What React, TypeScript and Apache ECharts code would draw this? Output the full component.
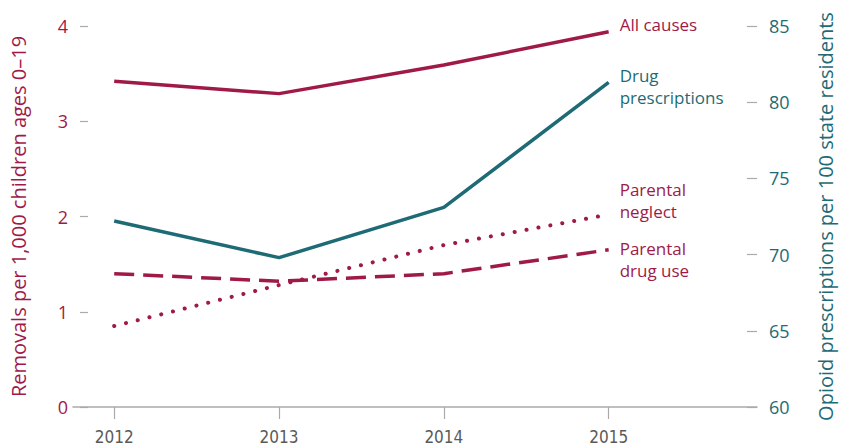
import React, { useEffect, useRef } from "react";
import * as echarts from "echarts";

const years = [2012, 2013, 2014, 2015];
const allCauses = [3.42, 3.29, 3.59, 3.94];
const parentalNeglect = [0.85, 1.28, 1.7, 2.02];
const parentalDrugUse = [1.4, 1.32, 1.4, 1.65];
const drugPrescriptions = [72.2, 69.8, 73.1, 81.3];
const leftTicks = [0, 1, 2, 3, 4];
const rightTicks = [60, 65, 70, 75, 80, 85];

const CRIMSON = "#a01a48";
const TEAL = "#1e6b75";
const FONT = "'Open Sans', 'Noto Sans', sans-serif";

const pairs = (vals: number[]) => years.map((y, i) => [y, vals[i]]);

export default function App() {
  const ref = useRef<HTMLDivElement>(null);
  useEffect(() => {
    document.body.style.margin = "0";
    const chart = echarts.init(ref.current!, null, { renderer: "svg" });
    const endLabel = (text: string, color: string, dy: number) => ({
      show: true,
      formatter: text,
      color,
      fontFamily: FONT,
      fontSize: 17,
      lineHeight: 22,
      distance: 11,
      offset: [0, dy],
    });
    chart.setOption({
      animation: false,
      grid: { left: 73, right: 80, top: 26, bottom: 41 },
      xAxis: {
        type: "value",
        min: 2011.75,
        max: 2015.9,
        splitLine: { show: false },
        axisLine: { show: true, lineStyle: { color: "#aaaaaa", width: 1.5 } },
        axisTick: {
          show: true,
          customValues: years,
          length: 12,
          lineStyle: { color: "#aaaaaa", width: 1.2 },
        },
        axisLabel: {
          customValues: years,
          formatter: (v: number) => String(v),
          color: "#5a5a5a",
          fontFamily: "'Liberation Sans Narrow', 'DejaVu Sans Condensed', sans-serif",
          fontWeight: "normal",
          fontSize: 17,
          margin: 21,
        },
      },
      yAxis: [
        {
          type: "value",
          min: 0,
          max: 4,
          interval: 1,
          offset: -15,
          splitLine: { show: false },
          axisLine: { show: false },
          axisTick: { show: true, length: 8, lineStyle: { color: "#aaaaaa", width: 1.2 } },
          axisLabel: {
            customValues: leftTicks,
            color: CRIMSON,
            fontFamily: FONT,
            fontSize: 18,
            margin: 20,
          },
          name: "Removals per 1,000 children ages 0–19",
          nameLocation: "middle",
          nameGap: 60,
          nameTextStyle: { color: CRIMSON, fontFamily: FONT, fontSize: 20 },
        },
        {
          type: "value",
          min: 60,
          max: 85,
          interval: 5,
          position: "right",
          splitLine: { show: false },
          axisLine: { show: false },
          axisTick: {
            show: true,
            inside: true,
            length: 10,
            lineStyle: { color: "#aaaaaa", width: 1.2 },
          },
          axisLabel: {
            customValues: rightTicks,
            color: TEAL,
            fontFamily: FONT,
            fontSize: 18,
            margin: 12,
          },
          name: "Opioid prescriptions per 100 state residents",
          nameLocation: "middle",
          nameGap: 58,
          nameRotate: 90,
          nameTextStyle: { color: TEAL, fontFamily: FONT, fontSize: 20 },
        },
      ],
      series: [
        {
          name: "All causes",
          type: "line",
          yAxisIndex: 0,
          data: pairs(allCauses),
          symbol: "none",
          lineStyle: { color: CRIMSON, width: 3.5 },
          endLabel: endLabel("All causes", CRIMSON, -7),
        },
        {
          name: "Drug prescriptions",
          type: "line",
          yAxisIndex: 1,
          data: pairs(drugPrescriptions),
          symbol: "none",
          lineStyle: { color: TEAL, width: 3.5 },
          endLabel: endLabel("Drug\nprescriptions", TEAL, 4),
        },
        {
          name: "Parental neglect",
          type: "line",
          yAxisIndex: 0,
          data: pairs(parentalNeglect),
          symbol: "none",
          lineStyle: { color: CRIMSON, width: 4, type: [0.1, 12], cap: "round" },
          endLabel: endLabel("Parental\nneglect", CRIMSON, -14),
        },
        {
          name: "Parental drug use",
          type: "line",
          yAxisIndex: 0,
          data: pairs(parentalDrugUse),
          symbol: "none",
          lineStyle: { color: CRIMSON, width: 3.5, type: [20, 9] },
          endLabel: endLabel("Parental\ndrug use", CRIMSON, 10),
        },
      ],
    });
    return () => chart.dispose();
  }, []);
  return <div ref={ref} style={{ width: 843, height: 448 }} />;
}
